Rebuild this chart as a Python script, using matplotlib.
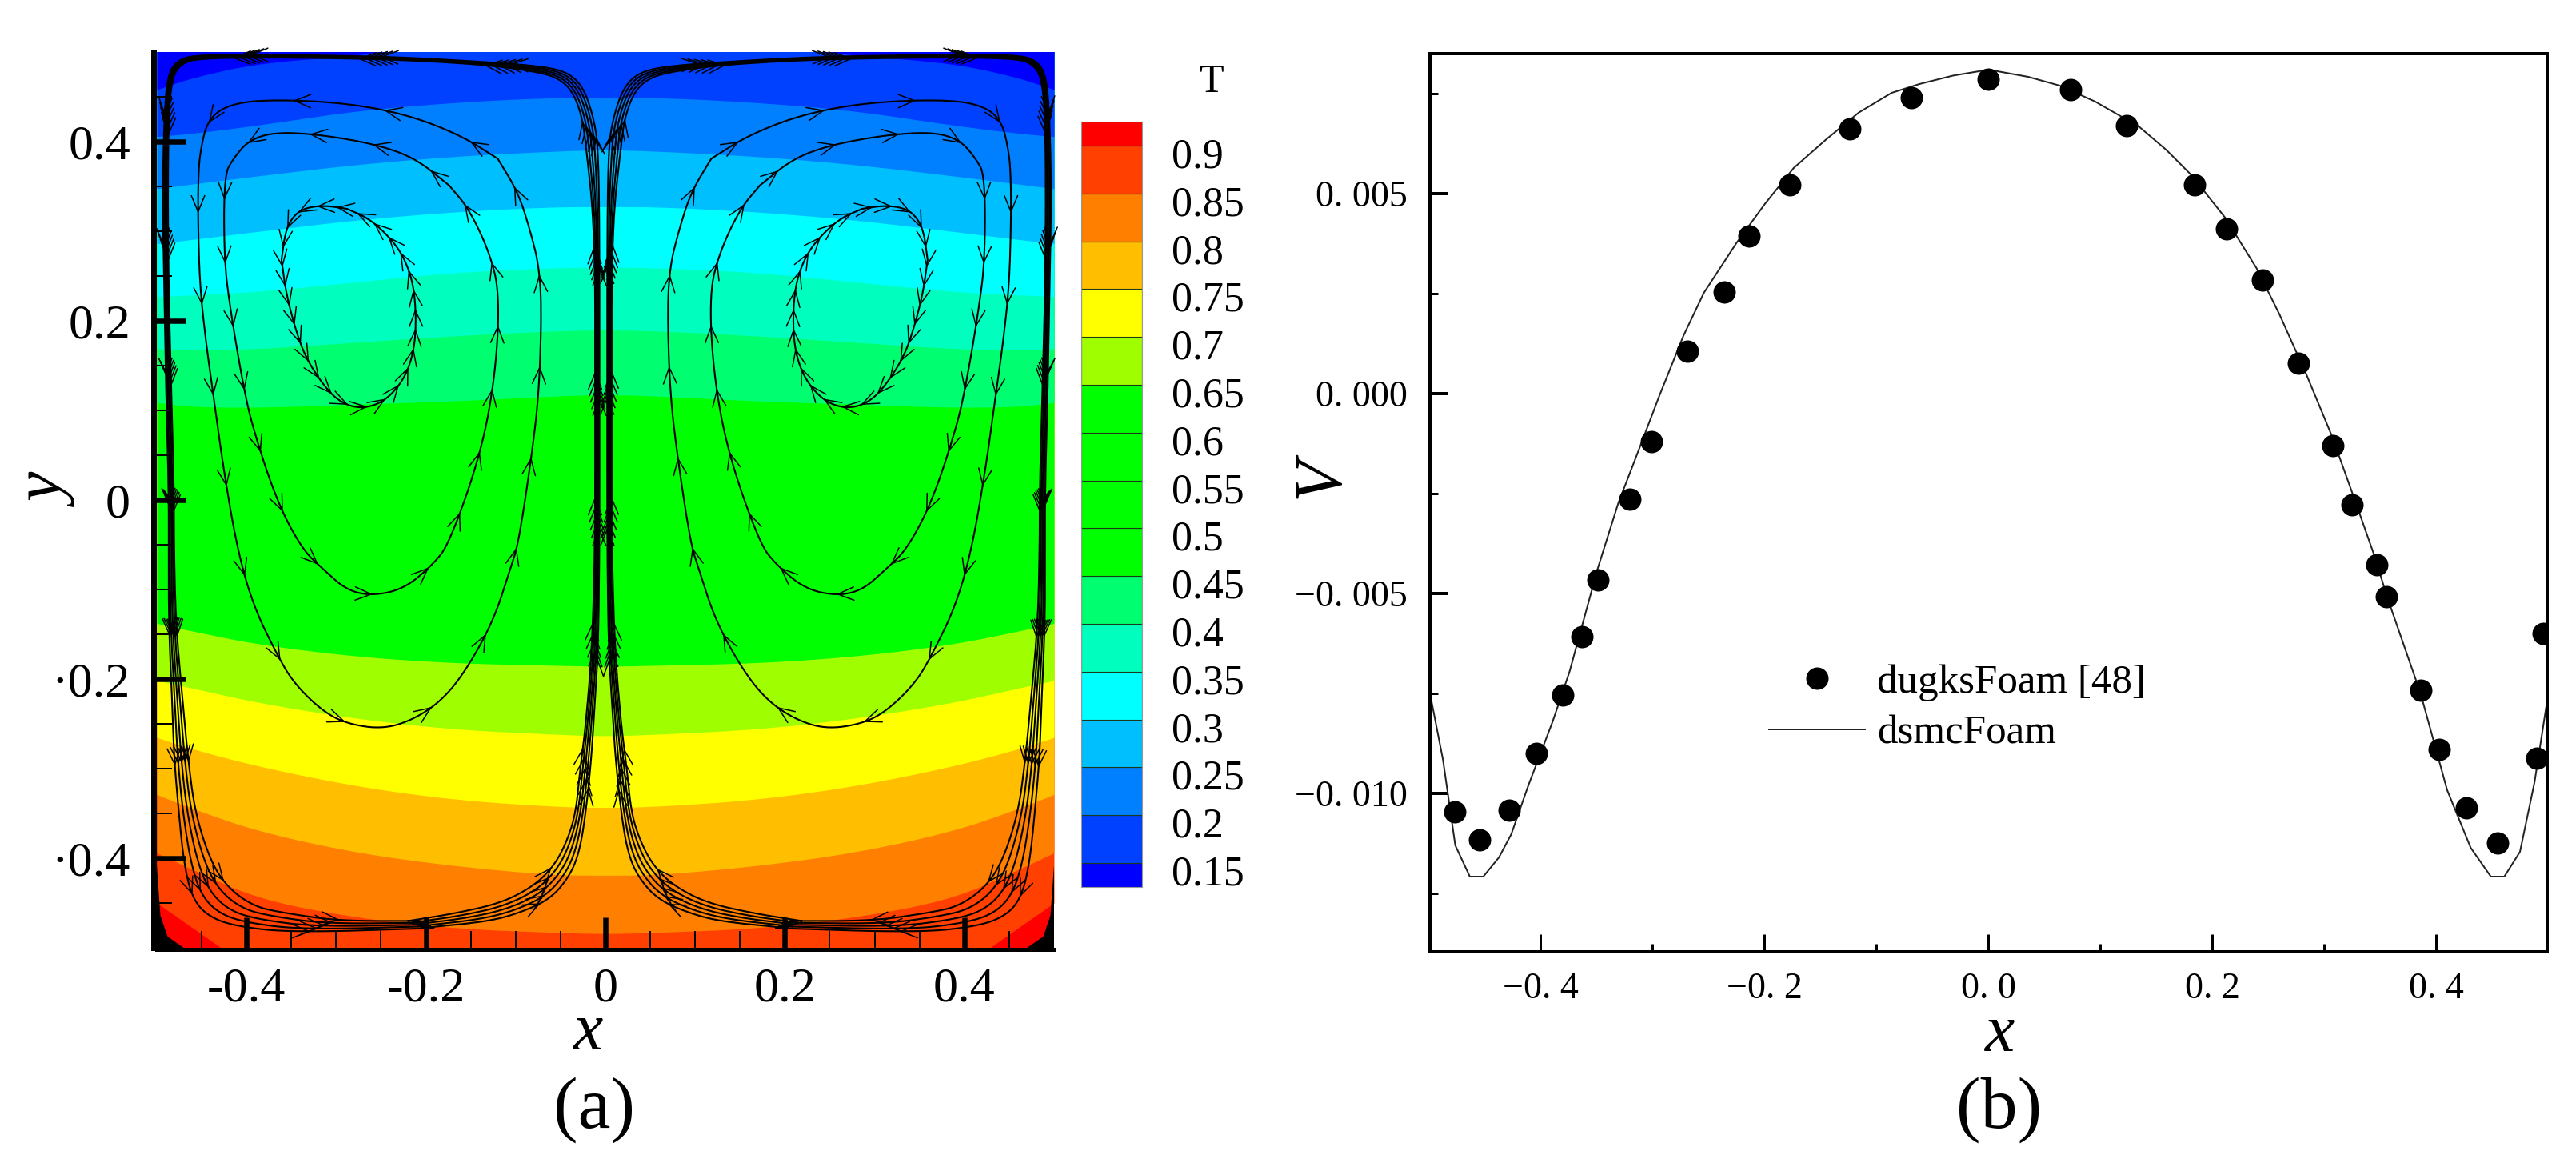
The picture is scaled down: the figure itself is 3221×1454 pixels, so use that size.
import numpy as np
import matplotlib
matplotlib.use("Agg")
import matplotlib.pyplot as plt
from matplotlib.patches import FancyArrowPatch
from matplotlib.transforms import ScaledTranslation

W, H = 3221, 1454
SERIF = "Liberation Serif"
plt.rcParams["font.family"] = SERIF

# ---- temperature field: height of each band edge, right half (mirrored to the left)
field_x = [0.0, 0.058, 0.167, 0.277, 0.386, 0.459, 0.5]
edge_015 = [0.51, 0.51, 0.51, 0.496, 0.488, 0.472, 0.458]
edge_020 = [0.4483, 0.4494, 0.444, 0.4348, 0.4184, 0.4093, 0.4057]
edge_025 = [0.3911, 0.3893, 0.3838, 0.3747, 0.3619, 0.3528, 0.3474]
edge_030 = [0.3273, 0.3273, 0.3219, 0.3128, 0.2999, 0.2909, 0.2861]
edge_035 = [0.2599, 0.2592, 0.2544, 0.2435, 0.2326, 0.2289, 0.2271]
edge_040 = [0.1899, 0.1888, 0.1834, 0.1761, 0.1688, 0.167, 0.1688]
edge_045 = [0.1178, 0.116, 0.1105, 0.1069, 0.1032, 0.104, 0.1087]
edge_065 = [-0.1859, -0.1847, -0.1823, -0.175, -0.1616, -0.1468, -0.1379]
edge_070 = [-0.2638, -0.2617, -0.2564, -0.2445, -0.2268, -0.2105, -0.2016]
edge_075 = [-0.3437, -0.3423, -0.3349, -0.32, -0.2978, -0.2786, -0.2653]
edge_080 = [-0.4192, -0.4187, -0.4089, -0.3941, -0.3704, -0.3452, -0.3289]
edge_085 = [-0.4844, -0.4829, -0.4785, -0.4666, -0.4459, -0.4133, -0.3941]
edge_090 = [-0.53, -0.53, -0.53, -0.53, -0.53, -0.4785, -0.45]

# bands of the colour bar, bottom to top
cbar_edges = [0.125, 0.15, 0.2, 0.25, 0.3, 0.35, 0.4, 0.45, 0.5, 0.55, 0.6, 0.65,
              0.7, 0.75, 0.8, 0.85, 0.9, 0.925]
cbar_colors = ["#0000ff", "#0040ff", "#0080ff", "#00bfff", "#00ffff", "#00ffbf", "#00ff70",
               "#00ff00", "#00ff00", "#00ff00", "#00ff00", "#9fff00", "#ffff00",
               "#ffbf00", "#ff8000", "#ff4000", "#ff0000"]
cbar_ticks = [0.15, 0.2, 0.25, 0.3, 0.35, 0.4, 0.45, 0.5, 0.55, 0.6, 0.65, 0.7, 0.75,
              0.8, 0.85, 0.9]
cbar_ticklabels = ["0.15", "0.2", "0.25", "0.3", "0.35", "0.4", "0.45", "0.5", "0.55",
                   "0.6", "0.65", "0.7", "0.75", "0.8", "0.85", "0.9"]

# ---- streamlines, left half (mirrored to the right)
inner_x = [-0.288, -0.315, -0.338, -0.350, -0.357, -0.361, -0.361, -0.356, -0.345, -0.334,
           -0.315, -0.297, -0.275, -0.252, -0.234, -0.220, -0.212, -0.211, -0.215, -0.227,
           -0.245, -0.265, -0.288]
inner_y = [0.325, 0.329, 0.325, 0.314, 0.298, 0.268, 0.268, 0.231, 0.189, 0.159,
           0.129, 0.110, 0.102, 0.107, 0.122, 0.144, 0.174, 0.212, 0.246, 0.276,
           0.298, 0.315, 0.325]
middle_x = [-0.174, -0.211, -0.252, -0.311, -0.366, -0.397, -0.415, -0.425, -0.425, -0.418,
            -0.404, -0.393, -0.366, -0.338, -0.315, -0.288, -0.259, -0.224, -0.193, -0.174,
            -0.138, -0.122, -0.118, -0.129, -0.152, -0.174]
middle_y = [0.351, 0.381, 0.396, 0.407, 0.411, 0.402, 0.381, 0.362, 0.268, 0.212,
            0.129, 0.080, -0.002, -0.055, -0.077, -0.101, -0.107, -0.099, -0.073, -0.049,
            0.054, 0.144, 0.231, 0.276, 0.325, 0.351]
outer_x = [-0.120, -0.161, -0.220, -0.288, -0.366, -0.416, -0.443, -0.452, -0.454, -0.454,
           -0.452, -0.445, -0.438, -0.427, -0.411, -0.393, -0.366, -0.347, -0.315, -0.288,
           -0.247, -0.211, -0.179, -0.152, -0.124, -0.106, -0.097, -0.083, -0.074, -0.071,
           -0.074, -0.083, -0.097, -0.120]
outer_y = [0.381, 0.407, 0.430, 0.443, 0.447, 0.443, 0.426, 0.388, 0.355, 0.306,
           0.238, 0.174, 0.125, 0.043, -0.052, -0.117, -0.173, -0.205, -0.236, -0.250,
           -0.256, -0.244, -0.221, -0.185, -0.133, -0.077, -0.049, 0.043, 0.118, 0.212,
           0.261, 0.298, 0.343, 0.381]

# wall bundle: its two edge streamlines, right half
bundle_a_x = [0.204, 0.131, 0.095, 0.058, 0.035, 0.024, 0.017, 0.011, 0.0074, 0.0035, 0.002,
              0.002, 0.002, 0.0035, 0.009, 0.020, 0.037, 0.066, 0.131, 0.240, 0.368, 0.458,
              0.480, 0.491, 0.495, 0.497, 0.495, 0.493, 0.490, 0.490, 0.490, 0.486, 0.484,
              0.479, 0.473, 0.464, 0.447, 0.415, 0.349, 0.190]
bundle_a_y = [-0.478, -0.471, -0.462, -0.446, -0.419, -0.390, -0.345, -0.286, -0.227, -0.168,
              -0.05, 0.10, 0.30, 0.395, 0.428, 0.460, 0.477, 0.484, 0.489, 0.495, 0.497, 0.497,
              0.491, 0.475, 0.431, 0.340, 0.231, 0.122, 0.012, -0.049, -0.138, -0.227, -0.286,
              -0.345, -0.404, -0.443, -0.464, -0.476, -0.483, -0.478]
bundle_b_x = [0.2184, 0.1675, 0.113, 0.0765, 0.0547, 0.040, 0.029, 0.024, 0.018, 0.0105, 0.007,
              0.007, 0.007, 0.018, 0.022, 0.031, 0.044, 0.066, 0.131, 0.240, 0.368, 0.458,
              0.477, 0.486, 0.490, 0.491, 0.490, 0.487, 0.484, 0.484, 0.482, 0.474, 0.468,
              0.460, 0.442, 0.422, 0.393, 0.360, 0.298, 0.205]
bundle_b_y = [-0.470, -0.462, -0.450, -0.431, -0.410, -0.384, -0.351, -0.301, -0.256, -0.168,
              -0.05, 0.10, 0.30, 0.402, 0.428, 0.453, 0.468, 0.477, 0.486, 0.492, 0.494, 0.493,
              0.486, 0.471, 0.431, 0.340, 0.231, 0.122, 0.012, -0.049, -0.138, -0.227, -0.290,
              -0.350, -0.405, -0.434, -0.454, -0.461, -0.470, -0.470]
corner_x = [-0.5, -0.5, -0.496, -0.488, -0.47]
corner_y = [-0.5, -0.408, -0.464, -0.4875, -0.5]

x_ticks_a = [-0.4, -0.2, 0, 0.2, 0.4]
x_labels_a = ["-0.4", "-0.2", "0", "0.2", "0.4"]
y_ticks_a = [-0.4, -0.2, 0, 0.2, 0.4]
y_labels_a = ["\u00b70.4", "\u00b70.2", "0", "0.2", "0.4"]

# ---- panel (b)
dugks_x = [-0.4763, -0.4541, -0.4282, -0.4039, -0.3802, -0.3632, -0.3486, -0.3201, -0.3005,
           -0.2684, -0.2357, -0.2138, -0.1773, -0.1234, -0.0687, 0.0003, 0.0739, 0.1237,
           0.1846, 0.2127, 0.2452, 0.2774, 0.3081, 0.3253, 0.3469, 0.3556, 0.3864, 0.4027,
           0.4271, 0.4552, 0.4899, 0.4957]
dugks_v = [-0.01046, -0.01115, -0.01041, -0.009, -0.00754, -0.00608, -0.00465, -0.00264,
           -0.00119, 0.00107, 0.00254, 0.00395, 0.00522, 0.00663, 0.00741, 0.00786, 0.00761,
           0.0067, 0.00522, 0.00413, 0.00285, 0.00077, -0.0013, -0.00277, -0.00428, -0.00507,
           -0.00742, -0.0089, -0.01036, -0.01124, -0.00912, -0.006]
dsmc_x = [-0.4986, -0.487, -0.476, -0.463, -0.451, -0.437, -0.426, -0.411, -0.389, -0.374,
          -0.3486, -0.3304, -0.3121, -0.2939, -0.2721, -0.2539, -0.2247, -0.1992, -0.1737,
          -0.1445, -0.1154, -0.0862, -0.0614, -0.0315, 0.0003, 0.0357, 0.0639, 0.0956, 0.1349,
          0.1592, 0.1816, 0.2116, 0.2396, 0.2602, 0.2845, 0.3069, 0.3275, 0.3443, 0.357, 0.386,
          0.41, 0.431, 0.449, 0.461, 0.475, 0.488, 0.4993]
dsmc_v = [-0.0075, -0.00916, -0.0113, -0.01208, -0.01208, -0.0116, -0.01102, -0.00982, -0.0082,
          -0.00696, -0.00436, -0.00274, -0.00141, -0.00007, 0.00145, 0.00252, 0.00377, 0.00475,
          0.00564, 0.00636, 0.00703, 0.00752, 0.00774, 0.00795, 0.0081, 0.00792, 0.0077, 0.0073,
          0.00667, 0.00609, 0.00546, 0.0044, 0.00314, 0.00198, 0.00046, -0.00105, -0.00266, -0.004,
          -0.00514, -0.00748, -0.00992, -0.01136, -0.01208, -0.01208, -0.01146, -0.00972, -0.00768]
x_ticks_b = [-0.4, -0.2, 0.0, 0.2, 0.4]
x_labels_b = ["\u22120. 4", "\u22120. 2", "0. 0", "0. 2", "0. 4"]
y_ticks_b = [-0.010, -0.005, 0.0, 0.005]
y_labels_b = ["\u22120. 010", "\u22120. 005", "0. 000", "0. 005"]


def px(v):
    return v * 72 / 100


def chaikin(x, y, n=3):
    p = np.column_stack([x, y]).astype(float)
    for _ in range(n):
        q = 0.75 * p[:-1] + 0.25 * p[1:]
        r = 0.25 * p[:-1] + 0.75 * p[1:]
        p = np.vstack([p[0], np.column_stack([q, r]).reshape(-1, 2), p[-1]])
    return p[:, 0], p[:, 1]


def add_arrows(ax, x, y, fracs):
    s = np.concatenate([[0], np.cumsum(np.hypot(np.diff(x), np.diff(y)))])
    for f in fracs:
        d = f * s[-1]
        tip = (np.interp(d, s, x), np.interp(d, s, y))
        tail = (np.interp(d - 0.008, s, x), np.interp(d - 0.008, s, y))
        ax.add_patch(FancyArrowPatch(tail, tip, arrowstyle="->,head_length=1.45,head_width=0.6",
                                     mutation_scale=10, shrinkA=0, shrinkB=0, lw=1.1, color="k",
                                     clip_on=False, zorder=5))


def mirror(x):
    return -np.asarray(x) - 0.002


def mirror_bundle(x):
    return -0.984 * np.asarray(x) - 0.0046


fig = plt.figure(figsize=(W / 100, H / 100), dpi=100, facecolor="white")


def axes_px(l, t, r, b):
    return fig.add_axes([l / W, 1 - b / H, (r - l) / W, (b - t) / H])


# ---------- panel (a)
ax = axes_px(196, 65, 1318, 1185)
ax.set_xlim(-0.5, 0.5)
ax.set_ylim(-0.5, 0.5)

full_x = np.concatenate([-np.array(field_x[::-1]), field_x[1:]])
edge_stack = [(edge_090, "#ff4000"), (edge_085, "#ff8000"), (edge_080, "#ffbf00"),
              (edge_075, "#ffff00"), (edge_070, "#9fff00"), (edge_065, "#00ff00"),
              (edge_045, "#00ff70"), (edge_040, "#00ffbf"), (edge_035, "#00ffff"),
              (edge_030, "#00bfff"), (edge_025, "#0080ff"), (edge_020, "#0040ff"),
              (edge_015, "#0000ff")]
ax.set_facecolor("#ff0000")
for edge, col in edge_stack:
    full_y = np.concatenate([np.array(edge[::-1]), edge[1:]])
    xs, ys = chaikin(full_x, full_y)
    ax.fill_between(xs, ys, 0.6, color=col, lw=0, zorder=1)

n_arrows = {"inner": 27, "middle": 19, "outer": 18}
for name, lx, ly in [("inner", inner_x, inner_y), ("middle", middle_x, middle_y),
                     ("outer", outer_x, outer_y)]:
    sx, sy = chaikin(lx, ly)
    fr = np.linspace(0.02, 0.98, n_arrows[name])
    ax.plot(sx, sy, color="k", lw=1.5, zorder=4, solid_capstyle="round")
    add_arrows(ax, sx, sy, fr)
    mx = mirror(sx)
    ax.plot(mx, sy, color="k", lw=1.5, zorder=4, solid_capstyle="round")
    add_arrows(ax, mx, sy, fr)

for i, t in enumerate([0, 0.25, 0.5, 0.75, 1.0]):
    bx_ = (1 - t) * np.array(bundle_a_x) + t * np.array(bundle_b_x)
    by_ = (1 - t) * np.array(bundle_a_y) + t * np.array(bundle_b_y)
    sx, sy = chaikin(bx_, by_)
    fr = np.linspace(0.05, 0.95, 18) + 0.004 * i
    ax.plot(sx, sy, color="k", lw=1.5, zorder=4, solid_joinstyle="round")
    add_arrows(ax, sx, sy, fr)
    mx = mirror_bundle(sx)
    ax.plot(mx, sy, color="k", lw=1.5, zorder=4, solid_joinstyle="round")
    add_arrows(ax, mx, sy, fr)
ax.fill(corner_x, corner_y, color="k", lw=0, zorder=4)
ax.fill(-np.array(corner_x), corner_y, color="k", lw=0, zorder=4)

for s in ("top", "right"):
    ax.spines[s].set_visible(False)
ax.spines["left"].set_position(("outward", px(4)))
ax.spines["left"].set_linewidth(px(7))
ax.spines["bottom"].set_position(("outward", px(2)))
ax.spines["bottom"].set_linewidth(px(5))
ax.set_xticks(x_ticks_a, x_labels_a)
ax.set_yticks(y_ticks_a, y_labels_a)
ax.set_xticks(np.arange(-0.45, 0.5, 0.05), minor=True)
ax.set_yticks(np.arange(-0.45, 0.5, 0.05), minor=True)
ax.tick_params(which="major", direction="in", length=px(40), width=px(6.5), labelsize=px(62))
ax.tick_params(which="minor", direction="in", length=px(23), width=px(2))
ax.tick_params(axis="x", which="major", pad=px(22))
ax.tick_params(axis="y", which="major", pad=px(29))
for t in ax.get_xticklines() + ax.get_yticklines():
    t.set_zorder(6)

fig.text(735 / W, 1 - 1292 / H, "x", style="italic", fontsize=px(84), ha="center", va="center")
fig.text(63 / W, 1 - 615 / H, "y", style="italic", fontsize=px(84), ha="center", va="center",
         rotation=90)
fig.text(743 / W, 1 - 1388 / H, "(a)", fontsize=px(92), ha="center", va="center")

# ---------- colour bar
cax = axes_px(1352, 152, 1428, 1109)
cax.set_xlim(0, 1)
cax.set_ylim(cbar_edges[0], cbar_edges[-1])
cax.bar(0.5, np.diff(cbar_edges), width=1.0, bottom=cbar_edges[:-1], color=cbar_colors,
        edgecolor="#1a3a1a", linewidth=0.8)
cax.set_xticks([])
cax.yaxis.tick_right()
cax.set_yticks(cbar_ticks, cbar_ticklabels)
cax.tick_params(axis="y", length=0, pad=px(37), labelsize=px(52))
off = ScaledTranslation(0, -9 / 100, fig.dpi_scale_trans)
for lab in cax.get_yticklabels():
    lab.set_transform(lab.get_transform() + off)
for s in cax.spines.values():
    s.set_linewidth(0.8)
    s.set_color("#999999")
fig.text(1514 / W, 1 - 103 / H, "T", fontsize=px(50), ha="center", va="center")

# ---------- panel (b)
bx = axes_px(1788, 67, 3185, 1190)
bx.set_xlim(-0.4986, 0.4993)
bx.set_ylim(-0.01396, 0.0085)
bx.plot(dsmc_x, dsmc_v, color="#222222", lw=px(2), label="dsmcFoam", zorder=2)
bx.plot(dugks_x, dugks_v, ls="none", marker="o", ms=px(28), color="k", mew=0,
        label="dugksFoam [48]", zorder=3)
for s in bx.spines.values():
    s.set_linewidth(px(4))
bx.set_xticks(x_ticks_b, x_labels_b)
bx.set_yticks(y_ticks_b, y_labels_b)
bx.set_xticks(np.arange(-0.3, 0.4, 0.2), minor=True)
bx.set_yticks([-0.0125, -0.0075, -0.0025, 0.0025, 0.0075], minor=True)
bx.tick_params(axis="x", which="major", direction="in", length=px(22), width=px(3),
               labelsize=px(46), pad=px(26))
bx.tick_params(axis="y", which="major", direction="in", length=px(22), width=px(4),
               labelsize=px(46), pad=px(28))
bx.tick_params(which="minor", direction="in", length=px(10), width=px(3))
h, l = bx.get_legend_handles_labels()
bx.legend(h[::-1], l[::-1], loc="upper left", bbox_to_anchor=(2212 / W, 1 - 830 / H),
          bbox_transform=fig.transFigure, frameon=False, fontsize=px(51), numpoints=1,
          handlelength=2.35, handletextpad=0.29, labelspacing=0.34, borderaxespad=0, borderpad=0)
fig.text(2500 / W, 1 - 1293 / H, "x", style="italic", fontsize=px(84), ha="center", va="center")
fig.text(1653 / W, 1 - 597 / H, "V", style="italic", fontsize=px(84), ha="center", va="center",
         rotation=90)
fig.text(2500 / W, 1 - 1388 / H, "(b)", fontsize=px(92), ha="center", va="center")

fig.savefig("out.png", dpi=100, facecolor="white")
